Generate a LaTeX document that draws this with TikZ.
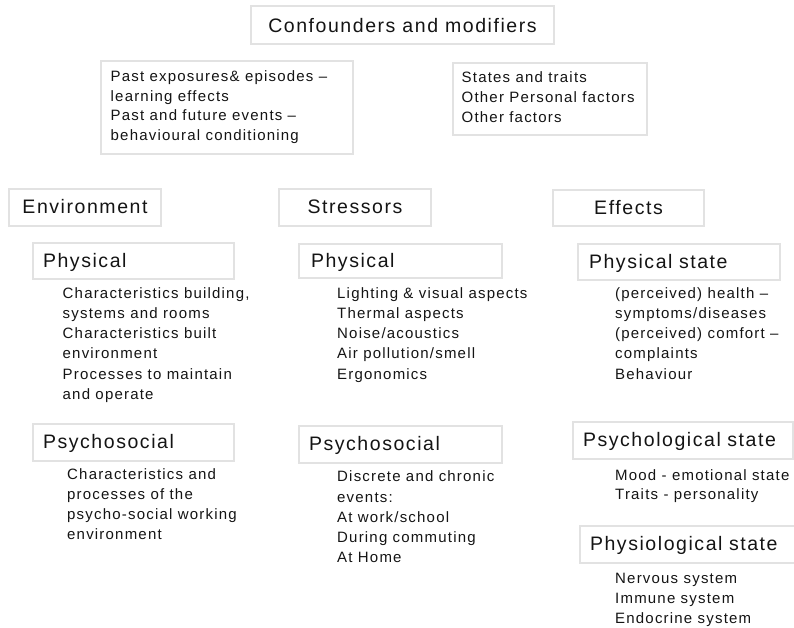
\documentclass[tikz,border=0pt]{standalone}
\usepackage{fontspec}
\setmainfont{Liberation Sans}[LetterSpace=8]
\definecolor{boxgray}{RGB}{226,226,226}
\definecolor{txt}{RGB}{20,20,20}
\begin{document}
\begin{tikzpicture}[x=1pt,y=-1pt,
  bx/.style={draw=boxgray, line width=2pt, fill=white, inner ysep=0pt, anchor=north west,
    font=\fontsize{19.5}{23}\selectfont, text=txt, text height=15pt, text depth=3pt},
  hl/.style={bx, align=left, inner xsep=#1},
  ls/.style={font=\fontsize{15}{20.3}\selectfont, text=txt, align=left, anchor=north west, inner sep=0pt},
  cb/.style={draw=boxgray, line width=2pt, fill=white, anchor=north west, inner sep=0pt}]
\useasboundingbox (0,0) rectangle (794,627);

% title
\node[bx, minimum width=303, minimum height=38, text height=16pt, text depth=2pt] (title) at (250,5) {Confounders and modifiers};

% confounder boxes
\node[cb, minimum width=252, minimum height=93] (conf1) at (100,60) {};
\node[ls, font=\fontsize{15}{19.5}\selectfont] (conf1t) at (110.5,70.7) {Past exposures\& episodes –\\learning effects\\Past and future events –\\behavioural conditioning};
\node[cb, minimum width=194, minimum height=72] (conf2) at (452,62) {};
\node[ls, font=\fontsize{15}{20}\selectfont] (conf2t) at (461.5,71.7) {States and traits\\Other Personal factors\\Other factors};

% column headers
\node[bx, minimum width=152, minimum height=37] (env) at (8,188) {Environment};
\node[bx, minimum width=152, minimum height=37] (str) at (278,188) {Stressors};
\node[bx, minimum width=151, minimum height=36] (eff) at (552,189) {Effects};

% environment
\node[hl=10pt, minimum width=201, minimum height=36, text width=181pt] (envph) at (32,242) {Physical};
\node[ls] (envphl) at (62.5,287) {Characteristics building,\\systems and rooms\\Characteristics built\\environment\\Processes to maintain\\and operate};
\node[hl=10pt, minimum width=201, minimum height=37, text width=181pt] (envps) at (32,423) {Psychosocial};
\node[ls] (envpsl) at (67,468) {Characteristics and\\processes of the\\psycho-social working\\environment};

% stressors
\node[hl=12pt, minimum width=203, minimum height=34, text width=179pt] (strph) at (298,243) {Physical};
\node[ls] (strphl) at (337,287) {Lighting \& visual aspects\\Thermal aspects\\Noise/acoustics\\Air pollution/smell\\Ergonomics};
\node[hl=10pt, minimum width=203, minimum height=37, text width=183pt] (strps) at (298,425) {Psychosocial};
\node[ls] (strpsl) at (337,470.7) {Discrete and chronic\\events:\\At work/school\\During commuting\\At Home};

% effects
\node[hl=11pt, minimum width=202, minimum height=36, text width=180pt] (effph) at (577,243) {Physical state};
\node[ls] (effphl) at (615,287) {(perceived) health –\\symptoms/diseases\\(perceived) comfort –\\complaints\\Behaviour};
\node[hl=10pt, minimum width=220, minimum height=37, text width=200pt] (effpsy) at (572,421) {Psychological state};
\node[ls, font=\fontsize{15}{19.5}\selectfont] (effpsyl) at (615,469) {Mood - emotional state\\Traits - personality};
\node[hl=10pt, minimum width=230, minimum height=37, text width=210pt] (effphy) at (579,525) {Physiological state};
\node[ls, font=\fontsize{15}{20}\selectfont] (effphyl) at (615,573) {Nervous system\\Immune system\\Endocrine system};
\end{tikzpicture}
\end{document}
